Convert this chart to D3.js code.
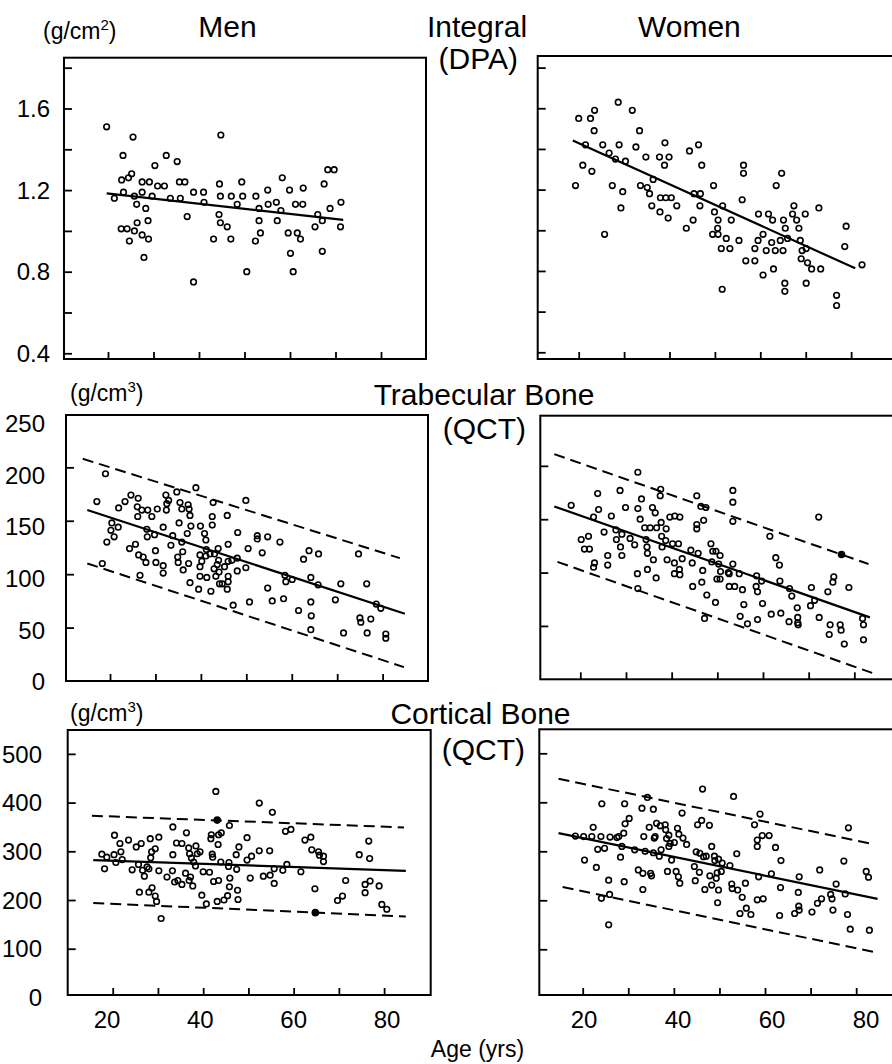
<!DOCTYPE html>
<html lang="en">
<head>
<meta charset="utf-8">
<title>Bone density vs age</title>
<script type="text/javascript" src="https://d3js.org/d3.v7.min.js"></script>
<style type="text/css">
  body { margin: 0; background-color: #ffffff; }
  svg text { font-family: "Liberation Sans", Arial, Helvetica, sans-serif; fill: #000; }
  .title { font-size: 30px; }
  .unit { font-size: 23px; }
  .ticklabel { font-size: 24px; }
  .xtitle { font-size: 23px; }
</style>
</head>
<body>
<svg id="chart" width="892" height="1064"></svg>
<script type="text/javascript">

// ---- DATA : [age (yrs), value] ----

// Integral (DPA), g/cm2
const menIntegral = [[19.7,1.51],[21.4,1.16],[23.3,1.37],[23.0,1.25],[24.5,1.26],[23.4,1.19],[25.2,1.28],[25.5,1.46],[25.8,1.17],[26.3,1.13],[22.9,1.01],[24.2,1.01],[25.8,1.00],[24.7,0.95],[26.4,1.04],[27.5,1.24],[27.5,1.19],[28.3,1.11],[28.8,1.05],[29.1,1.24],[29.7,1.17],[27.5,0.98],[28.9,0.96],[27.9,0.87],[30.3,1.32],[30.9,1.22],[32.4,1.22],[32.8,1.37],[33.7,1.16],[35.2,1.34],[35.7,1.24],[36.9,1.24],[35.9,1.16],[37.4,1.07],[38.8,1.19],[41.0,1.19],[41.1,1.14],[38.8,0.75],[43.2,0.96],[44.5,1.23],[44.8,1.47],[44.7,1.17],[44.4,1.08],[44.7,1.04],[46.2,1.02],[47.1,1.17],[47.0,0.96],[48.4,1.13],[49.4,1.24],[49.6,1.17],[50.5,0.80],[52.4,0.95],[52.5,1.17],[53.2,1.11],[53.2,1.05],[53.5,0.99],[55.1,1.20],[55.2,1.13],[57.0,1.14],[57.2,1.05],[58.0,1.10],[58.3,1.26],[59.9,1.20],[59.6,0.99],[60.1,0.89],[60.7,0.80],[61.2,1.13],[61.6,0.99],[62.8,1.13],[62.3,0.96],[62.9,1.21],[65.5,1.02],[66.1,1.08],[67.1,1.05],[67.1,0.90],[67.5,1.23],[68.3,1.30],[69.7,1.30],[68.8,1.11],[71.2,1.14],[71.1,1.02]];
const menIntegralFit = [[19.7,1.184],[71.7,1.054]];

const womenIntegral = [[19.3,1.22],[20.0,1.55],[21.5,1.42],[20.9,1.32],[22.6,1.55],[23.5,1.59],[23.4,1.49],[22.9,1.29],[25.3,1.42],[25.7,0.98],[26.7,1.38],[27.4,1.22],[28.1,1.35],[28.7,1.63],[28.9,1.42],[29.3,1.11],[29.7,1.19],[30.3,1.34],[31.8,1.59],[32.6,1.41],[33.4,1.49],[33.6,1.22],[34.8,1.36],[35.1,1.21],[35.6,1.18],[36.1,1.12],[36.4,1.25],[37.8,1.36],[38.0,1.16],[37.9,1.09],[38.9,1.32],[39.0,1.43],[39.2,1.16],[39.9,1.36],[40.4,1.16],[39.7,1.06],[41.6,1.12],[43.7,1.01],[44.4,1.39],[45.2,1.05],[45.4,1.18],[46.4,1.42],[46.8,1.18],[47.1,1.32],[46.7,1.12],[49.7,1.22],[49.9,1.09],[50.7,1.05],[50.6,1.01],[49.5,0.98],[50.7,0.98],[51.7,1.12],[51.6,0.71],[52.5,0.96],[51.4,0.91],[53.3,0.91],[53.6,1.05],[55.3,0.95],[56.0,1.15],[56.3,1.32],[56.3,1.28],[56.8,0.85],[58.8,0.85],[58.8,0.91],[59.5,0.95],[59.6,1.08],[60.6,0.98],[60.6,0.78],[61.3,0.90],[61.8,1.08],[62.7,1.05],[62.5,0.94],[62.9,0.81],[63.3,0.90],[63.5,1.22],[64.7,1.28],[64.4,0.95],[65.0,0.90],[65.1,1.05],[65.5,1.01],[65.4,0.74],[65.4,0.70],[66.0,0.96],[67.4,1.12],[67.1,1.08],[68.0,1.05],[68.5,1.01],[68.8,0.95],[69.2,0.90],[69.0,0.86],[69.9,1.08],[70.1,0.74],[70.4,0.84],[70.1,0.91],[71.3,0.81],[73.3,0.81],[72.9,1.11],[76.8,0.68],[76.8,0.63],[78.6,0.92],[78.9,1.02],[82.4,0.83]];
const womenIntegralFit = [[18.7,1.441],[80.9,0.813]];

// Trabecular bone (QCT), g/cm3
const menTrab = [[17.1,168],[19.0,194],[18.3,110],[19.3,130],[20.4,148],[20.2,141],[20.9,135],[21.8,144],[21.9,162],[23.3,168],[24.3,124],[24.6,174],[25.6,128],[26.0,163],[26.2,171],[26.1,154],[26.3,118],[26.6,99],[27.0,160],[27.3,116],[27.9,111],[28.1,142],[28.2,135],[28.3,160],[29.2,154],[29.8,137],[30.0,122],[30.1,111],[30.4,161],[31.7,144],[31.7,108],[31.7,101],[32.3,174],[32.5,166],[32.4,160],[32.9,169],[33.4,127],[33.8,136],[34.7,177],[34.9,116],[35.0,111],[35.2,148],[35.4,167],[35.8,161],[35.8,130],[36.0,121],[36.1,104],[37.0,138],[37.2,165],[37.3,110],[37.4,161],[37.6,155],[37.8,145],[37.6,92],[38.9,181],[39.5,86],[39.9,145],[39.8,118],[39.8,107],[39.8,98],[40.2,112],[40.8,138],[41.1,132],[41.2,123],[41.1,117],[41.3,97],[42.0,119],[42.2,84],[42.5,146],[42.5,154],[42.7,167],[42.9,105],[43.0,119],[43.3,98],[43.6,109],[43.8,124],[43.9,113],[44.0,102],[44.1,91],[44.7,91],[45.2,107],[45.8,155],[46.0,128],[46.0,112],[46.0,98],[46.0,93],[45.8,86],[46.8,113],[47.1,71],[48.1,139],[48.0,115],[48.0,103],[49.9,106],[49.9,169],[50.4,124],[50.7,74],[52.4,136],[52.4,133],[53.5,120],[54.7,135],[54.7,87],[55.7,75],[57.4,130],[58.2,77],[58.5,99],[58.7,93],[60.1,95],[61.5,66],[62.6,114],[63.8,122],[64.2,97],[64.2,74],[64.3,61],[64.2,48],[65.9,119],[65.8,90],[69.6,76],[70.8,91],[71.4,45],[74.7,119],[75.0,59],[75.2,55],[76.5,91],[76.6,45],[77.4,58],[78.6,72],[79.6,68],[80.7,44],[80.7,40]];
const menTrabFit = [[15.0,160],[84.9,63]];
const menTrabUpper = [[14.0,208],[83.8,115]];
const menTrabLower = [[15.0,110],[84.7,13]];

const womenTrab = [[18.0,163],[20.2,131],[21.8,134],[20.9,122],[22.0,122],[22.9,152],[23.1,109],[22.9,105],[23.8,174],[24.0,159],[25.2,138],[26.0,116],[26.0,107],[26.8,153],[27.8,140],[27.9,131],[28.7,177],[29.1,136],[28.8,124],[29.1,116],[29.9,161],[30.9,132],[31.9,126],[32.6,194],[32.6,160],[32.5,99],[33.1,150],[32.6,85],[33.4,169],[34.1,142],[34.4,131],[34.6,124],[34.7,118],[34.7,103],[35.3,142],[35.8,161],[36.0,112],[36.4,156],[36.6,95],[36.7,142],[37.6,178],[37.5,172],[37.8,134],[37.9,124],[37.7,147],[38.8,141],[38.7,130],[39.0,112],[39.6,152],[40.2,127],[40.7,153],[40.6,109],[40.6,99],[41.5,127],[41.8,152],[41.7,103],[41.8,98],[42.3,113],[44.2,121],[44.5,109],[44.6,87],[45.5,172],[45.5,141],[45.5,145],[45.8,118],[46.4,162],[46.8,102],[46.6,91],[47.0,149],[47.5,161],[47.7,79],[47.2,57],[48.6,127],[48.8,110],[49.0,120],[49.6,72],[49.9,94],[49.7,120],[50.6,116],[50.3,108],[50.6,94],[50.7,101],[52.4,100],[52.6,87],[52.6,99],[53.4,177],[53.4,166],[53.4,148],[53.4,108],[53.8,87],[54.8,99],[55.0,59],[55.5,84],[55.8,70],[56.6,52],[58.6,97],[58.5,87],[58.8,82],[58.8,56],[59.7,92],[59.9,71],[61.5,134],[61.8,61],[62.8,114],[63.6,107],[63.9,62],[63.7,92],[65.8,85],[65.7,54],[66.3,78],[67.5,67],[67.6,58],[67.7,51],[67.6,53],[70.4,69],[70.6,86],[71.3,74],[72.3,58],[72.2,152],[74.2,82],[74.7,51],[74.5,42],[75.3,91],[75.5,96],[76.9,51],[77.1,46],[77.8,33],[78.8,86],[81.8,57],[82.0,51],[82.0,37]];
const womenTrabFilled = [[77.2,117]];
const womenTrabFit = [[14.3,162],[83.4,58]];
const womenTrabUpper = [[14.3,211],[83.1,108]];
const womenTrabLower = [[15.0,110],[83.9,6]];

// Cortical bone (QCT), g/cm3
const menCort = [[17.6,294],[18.2,264],[18.7,288],[20.4,333],[20.3,293],[20.7,277],[21.6,316],[21.8,299],[22.1,283],[23.5,323],[24.3,262],[25.2,309],[25.9,216],[25.7,273],[26.3,316],[26.6,261],[27.0,249],[27.6,268],[28.0,264],[28.3,326],[28.4,287],[28.6,299],[28.7,225],[28.0,216],[29.4,305],[29.4,208],[29.7,197],[30.2,329],[30.2,260],[30.7,162],[32.0,247],[33.2,260],[33.3,293],[33.3,350],[33.7,237],[34.1,317],[34.4,240],[35.3,232],[35.3,316],[36.1,255],[36.3,338],[36.8,307],[37.0,295],[36.9,240],[37.2,247],[37.7,229],[37.4,286],[37.9,278],[38.3,270],[38.4,311],[38.7,295],[39.3,299],[39.7,210],[40.0,258],[40.7,192],[41.4,257],[41.7,326],[41.8,334],[42.1,288],[42.3,238],[42.0,294],[42.8,423],[43.1,197],[43.3,314],[43.4,334],[43.4,240],[44.0,338],[43.9,278],[44.6,200],[45.4,209],[45.7,277],[45.8,227],[45.8,353],[45.9,245],[45.6,269],[47.3,293],[47.4,263],[47.6,220],[47.7,201],[47.9,309],[49.7,328],[49.7,282],[50.4,245],[50.7,290],[52.4,399],[52.4,301],[53.3,249],[54.7,301],[54.8,251],[55.3,380],[55.7,234],[55.7,264],[57.6,261],[58.2,341],[58.5,273],[59.4,345],[61.6,258],[62.5,323],[63.8,329],[64.0,303],[64.7,223],[65.5,299],[65.7,292],[66.6,290],[66.6,279],[69.7,199],[70.8,208],[71.5,240],[74.5,293],[75.8,215],[75.8,232],[76.6,321],[76.8,285],[76.9,239],[78.9,229],[79.5,191],[80.6,181]];
const menCortFilled = [[43.1,364],[64.8,174]];
const menCortFit = [[15.7,282],[84.8,260]];
const menCortUpper = [[15.4,373],[84.4,349]];
const menCortLower = [[15.7,194],[84.8,166]];

const womenCort = [[18.4,331],[20.2,330],[20.4,282],[22.0,330],[22.3,349],[23.0,267],[23.3,304],[24.0,330],[24.2,397],[24.1,204],[24.8,306],[25.7,241],[26.0,329],[25.9,212],[25.7,150],[27.5,328],[27.9,330],[28.3,288],[28.6,310],[29.1,238],[29.0,337],[29.2,397],[29.3,356],[30.2,367],[31.4,303],[32.2,262],[33.0,388],[33.2,255],[33.2,222],[33.4,330],[33.7,300],[34.2,410],[34.6,349],[34.9,255],[35.1,250],[35.5,386],[35.5,297],[35.7,327],[35.9,330],[36.2,357],[36.8,290],[37.0,352],[37.2,303],[38.1,354],[38.2,344],[38.4,326],[38.6,259],[38.9,310],[38.9,333],[39.2,316],[39.5,282],[40.1,318],[40.5,259],[40.8,347],[41.1,335],[41.0,248],[41.3,235],[41.8,378],[42.0,327],[42.8,314],[44.5,269],[44.7,240],[44.9,299],[45.2,354],[45.6,257],[45.7,296],[46.1,363],[46.3,427],[46.5,289],[46.8,222],[47.1,290],[47.8,353],[47.9,250],[48.3,310],[48.3,231],[48.9,290],[49.0,281],[49.3,245],[49.5,256],[49.6,195],[49.8,221],[49.8,284],[50.6,276],[50.4,259],[52.3,271],[52.7,233],[52.8,224],[53.1,412],[53.8,295],[54.0,221],[55.0,206],[55.7,235],[54.5,173],[55.9,184],[56.9,171],[57.7,354],[58.3,323],[58.3,310],[58.3,201],[58.6,248],[58.9,376],[59.4,332],[59.6,203],[60.9,332],[61.4,254],[62.3,308],[63.5,281],[63.2,169],[63.4,226],[66.5,173],[67.3,216],[67.5,248],[67.4,188],[67.5,180],[70.3,176],[71.5,194],[72.0,262],[72.4,203],[74.4,212],[74.7,203],[74.9,180],[75.6,233],[77.3,280],[77.6,213],[78.1,171],[78.3,348],[78.7,141],[82.2,259],[82.7,247],[82.9,139]];
const womenCortFit = [[14.7,337],[84.7,203]];
const womenCortUpper = [[14.7,448],[83.1,316]];
const womenCortLower = [[15.6,227],[84.2,94]];

// tick values
const ageTicks = [20, 30, 40, 50, 60, 70, 80];
const ageLabels = [20, 40, 60, 80];
const dpaTicks = [0.4, 0.6, 0.8, 1.0, 1.2, 1.4, 1.6, 1.8];
const dpaLabels = [0.4, 0.8, 1.2, 1.6];
const trabTicks = [50, 100, 150, 200];
const trabLabels = [0, 50, 100, 150, 200, 250];
const cortTicks = [100, 200, 300, 400, 500];
const cortLabels = [0, 100, 200, 300, 400, 500];

// ---- LAYOUT (frame = [left, top, right, bottom]) ----
const panels = [
  { pts: menIntegral, fit: menIntegralFit, frame: [64, 57.7, 426, 359], xDom: [10.33, 89.89], yDom: [0.372, 1.849], yTicks: dpaTicks },
  { pts: womenIntegral, fit: womenIntegralFit, frame: [537.7, 56, 899.7, 359], xDom: [10.97, 90.7], yDom: [0.367, 1.857], yTicks: dpaTicks },
  { pts: menTrab, fit: menTrabFit, upper: menTrabUpper, lower: menTrabLower, frame: [66, 415, 428, 681], xDom: [10.31, 89.99], yDom: [0, 249], yTicks: trabTicks },
  { pts: womenTrab, filled: womenTrabFilled, fit: womenTrabFit, upper: womenTrabUpper, lower: womenTrabLower, frame: [540.3, 415.7, 902.3, 679.3], xDom: [11.24, 90.5], yDom: [0, 247], yTicks: trabTicks },
  { pts: menCort, filled: menCortFilled, fit: menCortFit, upper: menCortUpper, lower: menCortLower, frame: [67.7, 730, 430.7, 995], xDom: [10.05, 90.3], yDom: [5, 549], yTicks: cortTicks },
  { pts: womenCort, fit: womenCortFit, upper: womenCortUpper, lower: womenCortLower, frame: [539.3, 729.3, 901.3, 995], xDom: [10.48, 89.9], yDom: [6.7, 549], yTicks: cortTicks }
];

const svg = d3.select("#chart");
svg.append("rect").attr("width", 892).attr("height", 1064).attr("fill", "#fff");

panels.forEach(p => {
  const [l, t, r, b] = p.frame;
  const x = d3.scaleLinear().domain(p.xDom).range([l, r]);
  const y = d3.scaleLinear().domain(p.yDom).range([b, t]);
  const g = svg.append("g");

  // inward ticks on the left and bottom edges
  g.append("g")
    .attr("transform", `translate(${l},0)`)
    .call(d3.axisRight(y).tickValues(p.yTicks).tickSize(8).tickFormat(""))
    .call(a => a.select(".domain").remove())
    .selectAll("line").attr("stroke", "#000").attr("stroke-width", 1.8);

  g.append("g")
    .attr("transform", `translate(0,${b})`)
    .call(d3.axisTop(x).tickValues(ageTicks).tickSize(7).tickFormat(""))
    .call(a => a.select(".domain").remove())
    .selectAll("line").attr("stroke", "#000").attr("stroke-width", 1.8);

  // frame
  g.append("rect")
    .attr("x", l).attr("y", t)
    .attr("width", r - l).attr("height", b - t)
    .attr("fill", "none").attr("stroke", "#000").attr("stroke-width", 2);

  const line = d3.line().x(d => x(d[0])).y(d => y(d[1]));

  // 95% bands (dashed)
  [p.upper, p.lower].filter(Boolean).forEach(band => {
    g.append("path").attr("d", line(band))
      .attr("fill", "none").attr("stroke", "#000")
      .attr("stroke-width", 2).attr("stroke-dasharray", "11,6");
  });

  // regression line
  g.append("path").attr("d", line(p.fit))
    .attr("fill", "none").attr("stroke", "#000").attr("stroke-width", 2.2);

  // subjects
  g.selectAll("circle.pt")
    .data(p.pts)
    .enter()
    .append("circle")
    .attr("class", "pt")
    .attr("cx", d => x(d[0]))
    .attr("cy", d => y(d[1]))
    .attr("r", 2.8)
    .attr("fill", "none")
    .attr("stroke", "#000")
    .attr("stroke-width", 1.6);

  g.selectAll("circle.filled")
    .data(p.filled || [])
    .enter()
    .append("circle")
    .attr("class", "filled")
    .attr("cx", d => x(d[0]))
    .attr("cy", d => y(d[1]))
    .attr("r", 3.8)
    .attr("fill", "#000");
});

// ---- Y tick labels (men panels only) ----
const yLabelRows = [
  { values: dpaLabels, fmt: d3.format(".1f"), scale: d3.scaleLinear().domain([0.372, 1.849]).range([359, 57.7]), x: 50 },
  { values: trabLabels, fmt: d3.format("d"), scale: d3.scaleLinear().domain([0, 250]).range([681.7, 423.3]), x: 45 },
  { values: cortLabels, fmt: d3.format("d"), scale: d3.scaleLinear().domain([5, 549]).range([995, 730]), x: 42 }
];
yLabelRows.forEach(row => {
  svg.append("g").selectAll("text")
    .data(row.values)
    .enter()
    .append("text")
    .attr("class", "ticklabel")
    .attr("x", row.x)
    .attr("y", d => row.scale(d))
    .attr("dy", "0.36em")
    .attr("text-anchor", "end")
    .text(d => row.fmt(d));
});

// ---- X tick labels (bottom row) ----
const xLabelScales = [
  d3.scaleLinear().domain([20, 80]).range([107, 387]),
  d3.scaleLinear().domain([20, 80]).range([584, 866])
];
xLabelScales.forEach(s => {
  svg.append("g").selectAll("text")
    .data(ageLabels)
    .enter()
    .append("text")
    .attr("class", "ticklabel")
    .attr("x", d => s(d))
    .attr("y", 1028)
    .attr("text-anchor", "middle")
    .text(d => d);
});

// ---- unit labels ----
function unitLabel(x, y, sup) {
  const t = svg.append("text").attr("class", "unit").attr("x", x).attr("y", y);
  t.append("tspan").text("(g/cm");
  t.append("tspan").attr("dy", -9).style("font-size", "15px").text(sup);
  t.append("tspan").attr("dy", 9).text(")");
}
unitLabel(43, 39, "2");
unitLabel(70, 401, "3");
unitLabel(70, 721, "3");

// ---- titles ----
const titles = [
  { text: "Men", x: 227.4, y: 37, anchor: "middle" },
  { text: "Women", x: 689.4, y: 37, anchor: "middle" },
  { text: "Integral", x: 427, y: 37, anchor: "start" },
  { text: "(DPA)", x: 518, y: 69, anchor: "end" },
  { text: "Trabecular Bone", x: 484, y: 405, anchor: "middle" },
  { text: "(QCT)", x: 526, y: 439, anchor: "end" },
  { text: "Cortical Bone", x: 480.5, y: 724, anchor: "middle" },
  { text: "(QCT)", x: 525, y: 760, anchor: "end" }
];
svg.append("g").selectAll("text")
  .data(titles)
  .enter()
  .append("text")
  .attr("class", "title")
  .attr("x", d => d.x)
  .attr("y", d => d.y)
  .attr("text-anchor", d => d.anchor)
  .text(d => d.text);

svg.append("text")
  .attr("class", "xtitle")
  .attr("x", 477.5)
  .attr("y", 1057)
  .attr("text-anchor", "middle")
  .text("Age (yrs)");

</script>
</body>
</html>
